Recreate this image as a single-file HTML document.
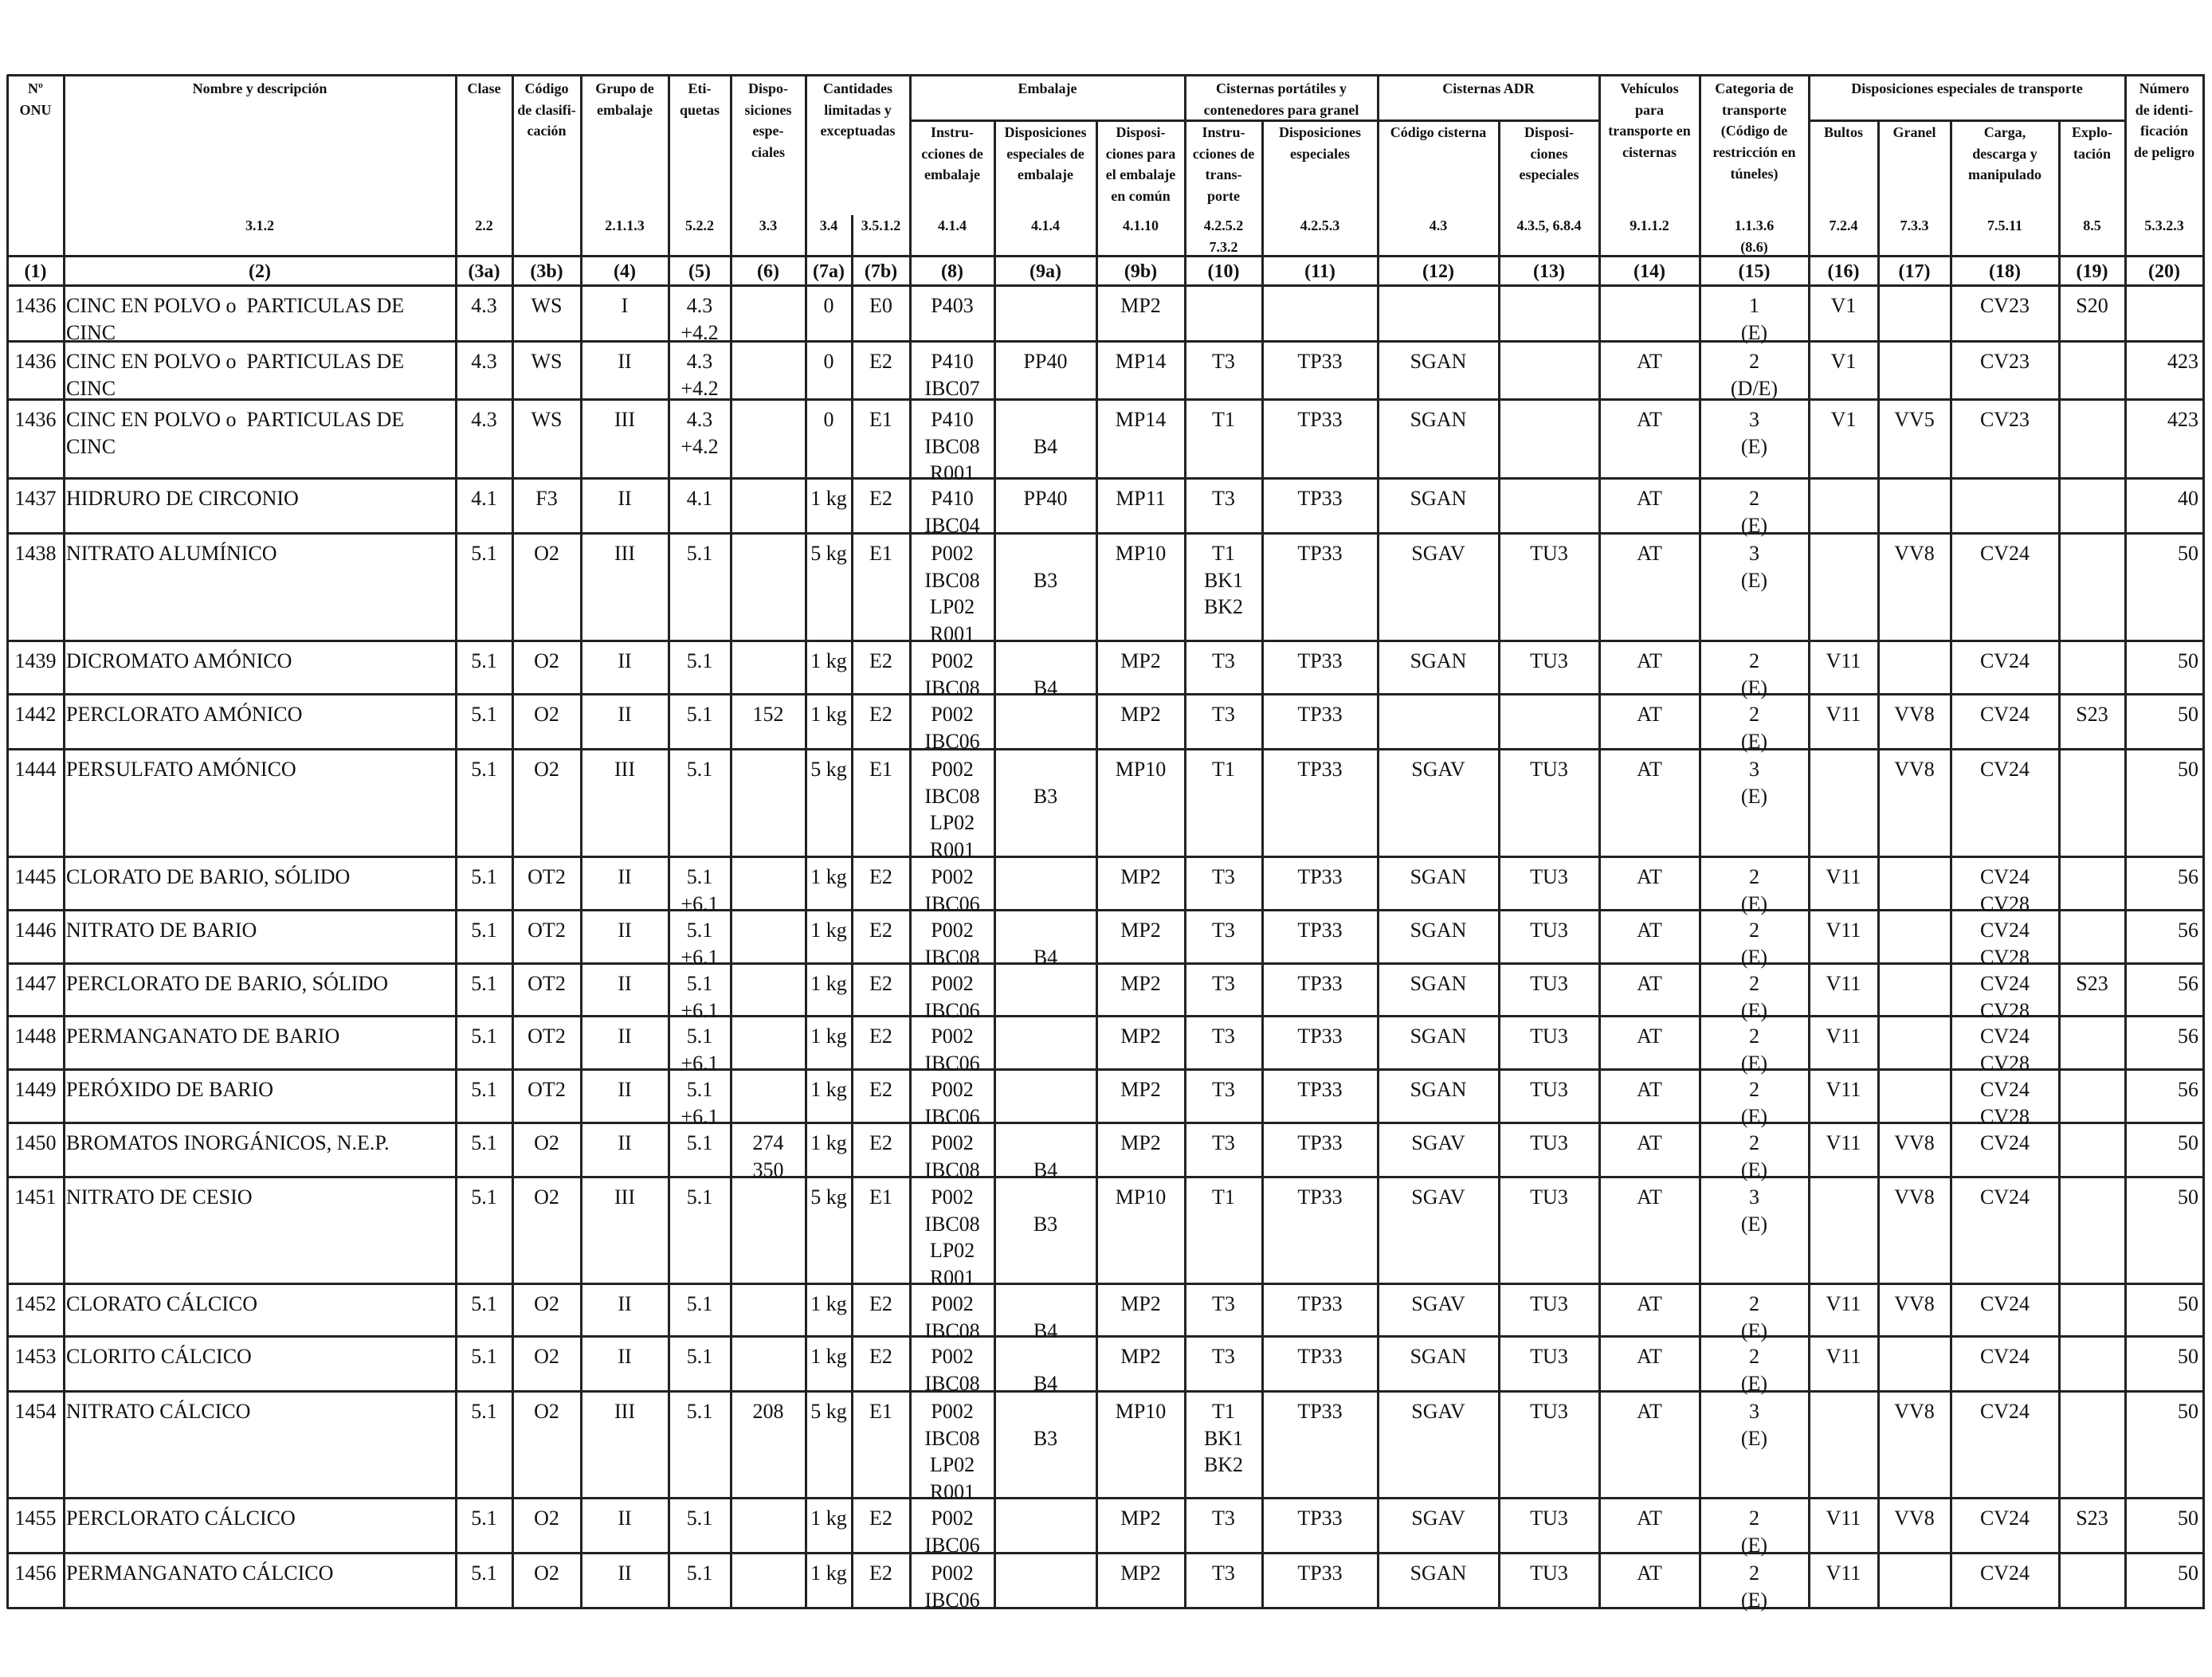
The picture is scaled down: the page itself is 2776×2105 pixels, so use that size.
<!DOCTYPE html>
<html><head><meta charset="utf-8">
<style>
html,body{margin:0;padding:0;background:#fff}
#page{position:relative;width:2776px;height:2105px;background:#fff;overflow:hidden;font-family:"Liberation Serif",serif;color:#111}
.ln{position:absolute;background:#222}
.t{position:absolute;white-space:pre;font-size:26px;line-height:33.5px}
.h{position:absolute;white-space:pre;font-size:18px;line-height:26.7px;font-weight:bold;text-align:center}
.n{position:absolute;font-size:24px;font-weight:bold;text-align:center;line-height:38px}
</style></head>
<body>
<div id="page"></div>
<script>
const colEdges=[9,80,572,643,729,839,917,1011,1069,1142,1248,1376,1487,1584,1729,1881,2007,2133,2270,2357,2448,2584,2667,2765];
const rowEdges=[358,428,501,600,669,804,871,940,1075,1142,1209,1275,1342,1409,1477,1611,1677,1746,1880,1949,2018];
const colNums=["(1)","(2)","(3a)","(3b)","(4)","(5)","(6)","(7a)","(7b)","(8)","(9a)","(9b)","(10)","(11)","(12)","(13)","(14)","(15)","(16)","(17)","(18)","(19)","(20)"];
const rows=[
["1436","CINC EN POLVO o  PARTICULAS DE\nCINC","4.3","WS","I","4.3\n+4.2","","0","E0","P403","","MP2","","","","","","1\n(E)","V1","","CV23","S20",""],
["1436","CINC EN POLVO o  PARTICULAS DE\nCINC","4.3","WS","II","4.3\n+4.2","","0","E2","P410\nIBC07","PP40","MP14","T3","TP33","SGAN","","AT","2\n(D/E)","V1","","CV23","","423"],
["1436","CINC EN POLVO o  PARTICULAS DE\nCINC","4.3","WS","III","4.3\n+4.2","","0","E1","P410\nIBC08\nR001","\nB4","MP14","T1","TP33","SGAN","","AT","3\n(E)","V1","VV5","CV23","","423"],
["1437","HIDRURO DE CIRCONIO","4.1","F3","II","4.1","","1 kg","E2","P410\nIBC04","PP40","MP11","T3","TP33","SGAN","","AT","2\n(E)","","","","","40"],
["1438","NITRATO ALUMÍNICO","5.1","O2","III","5.1","","5 kg","E1","P002\nIBC08\nLP02\nR001","\nB3","MP10","T1\nBK1\nBK2","TP33","SGAV","TU3","AT","3\n(E)","","VV8","CV24","","50"],
["1439","DICROMATO AMÓNICO","5.1","O2","II","5.1","","1 kg","E2","P002\nIBC08","\nB4","MP2","T3","TP33","SGAN","TU3","AT","2\n(E)","V11","","CV24","","50"],
["1442","PERCLORATO AMÓNICO","5.1","O2","II","5.1","152","1 kg","E2","P002\nIBC06","","MP2","T3","TP33","","","AT","2\n(E)","V11","VV8","CV24","S23","50"],
["1444","PERSULFATO AMÓNICO","5.1","O2","III","5.1","","5 kg","E1","P002\nIBC08\nLP02\nR001","\nB3","MP10","T1","TP33","SGAV","TU3","AT","3\n(E)","","VV8","CV24","","50"],
["1445","CLORATO DE BARIO, SÓLIDO","5.1","OT2","II","5.1\n+6.1","","1 kg","E2","P002\nIBC06","","MP2","T3","TP33","SGAN","TU3","AT","2\n(E)","V11","","CV24\nCV28","","56"],
["1446","NITRATO DE BARIO","5.1","OT2","II","5.1\n+6.1","","1 kg","E2","P002\nIBC08","\nB4","MP2","T3","TP33","SGAN","TU3","AT","2\n(E)","V11","","CV24\nCV28","","56"],
["1447","PERCLORATO DE BARIO, SÓLIDO","5.1","OT2","II","5.1\n+6.1","","1 kg","E2","P002\nIBC06","","MP2","T3","TP33","SGAN","TU3","AT","2\n(E)","V11","","CV24\nCV28","S23","56"],
["1448","PERMANGANATO DE BARIO","5.1","OT2","II","5.1\n+6.1","","1 kg","E2","P002\nIBC06","","MP2","T3","TP33","SGAN","TU3","AT","2\n(E)","V11","","CV24\nCV28","","56"],
["1449","PERÓXIDO DE BARIO","5.1","OT2","II","5.1\n+6.1","","1 kg","E2","P002\nIBC06","","MP2","T3","TP33","SGAN","TU3","AT","2\n(E)","V11","","CV24\nCV28","","56"],
["1450","BROMATOS INORGÁNICOS, N.E.P.","5.1","O2","II","5.1","274\n350","1 kg","E2","P002\nIBC08","\nB4","MP2","T3","TP33","SGAV","TU3","AT","2\n(E)","V11","VV8","CV24","","50"],
["1451","NITRATO DE CESIO","5.1","O2","III","5.1","","5 kg","E1","P002\nIBC08\nLP02\nR001","\nB3","MP10","T1","TP33","SGAV","TU3","AT","3\n(E)","","VV8","CV24","","50"],
["1452","CLORATO CÁLCICO","5.1","O2","II","5.1","","1 kg","E2","P002\nIBC08","\nB4","MP2","T3","TP33","SGAV","TU3","AT","2\n(E)","V11","VV8","CV24","","50"],
["1453","CLORITO CÁLCICO","5.1","O2","II","5.1","","1 kg","E2","P002\nIBC08","\nB4","MP2","T3","TP33","SGAN","TU3","AT","2\n(E)","V11","","CV24","","50"],
["1454","NITRATO CÁLCICO","5.1","O2","III","5.1","208","5 kg","E1","P002\nIBC08\nLP02\nR001","\nB3","MP10","T1\nBK1\nBK2","TP33","SGAV","TU3","AT","3\n(E)","","VV8","CV24","","50"],
["1455","PERCLORATO CÁLCICO","5.1","O2","II","5.1","","1 kg","E2","P002\nIBC06","","MP2","T3","TP33","SGAV","TU3","AT","2\n(E)","V11","VV8","CV24","S23","50"],
["1456","PERMANGANATO CÁLCICO","5.1","O2","II","5.1","","1 kg","E2","P002\nIBC06","","MP2","T3","TP33","SGAN","TU3","AT","2\n(E)","V11","","CV24","","50"]
];
// header: [startCol,endCol(exclusive),top,text]
const headTitles=[
[0,1,98,"Nº\nONU"],[1,2,98,"Nombre y descripción"],[2,3,98,"Clase"],[3,4,98,"Código\nde clasifi-\ncación"],
[4,5,98,"Grupo de\nembalaje"],[5,6,98,"Eti-\nquetas"],[6,7,98,"Dispo-\nsiciones\nespe-\nciales"],
[7,9,98,"Cantidades\nlimitadas y\nexceptuadas"],[9,12,98,"Embalaje"],[12,14,98,"Cisternas portátiles y\ncontenedores para granel"],
[14,16,98,"Cisternas ADR"],[16,17,98,"Vehículos\npara\ntransporte en\ncisternas"],
[17,18,98,"Categoria de\ntransporte\n(Código de\nrestricción en\ntúneles)"],[18,22,98,"Disposiciones especiales de transporte"],
[22,23,98,"Número\nde identi-\nficación\nde peligro"],
[9,10,153,"Instru-\ncciones de\nembalaje"],[10,11,153,"Disposiciones\nespeciales de\nembalaje"],[11,12,153,"Disposi-\nciones para\nel embalaje\nen común"],
[12,13,153,"Instru-\ncciones de\ntrans-\nporte"],[13,14,153,"Disposiciones\nespeciales"],[14,15,153,"Código cisterna"],[15,16,153,"Disposi-\nciones\nespeciales"],
[18,19,153,"Bultos"],[19,20,153,"Granel"],[20,21,153,"Carga,\ndescarga y\nmanipulado"],[21,22,153,"Explo-\ntación"]
];
const refs=["","3.1.2","2.2","","2.1.1.3","5.2.2","3.3","3.4","3.5.1.2","4.1.4","4.1.4","4.1.10","4.2.5.2\n7.3.2","4.2.5.3","4.3","4.3.5, 6.8.4","9.1.1.2","1.1.3.6\n(8.6)","7.2.4","7.3.3","7.5.11","8.5","5.3.2.3"];

const page=document.getElementById('page');
function line(x,y,w,h,name){const d=document.createElement('div');d.className='ln';


d.style.cssText=`left:${x}px;top:${y}px;width:${w}px;height:${h}px`;page.appendChild(d);}
function txt(cls,x0,x1,y,s,align,name){const d=document.createElement('div');d.className=cls;


d.style.left=x0+'px';d.style.width=(x1-x0)+'px';d.style.top=y+'px';d.style.textAlign=align||'center';
if(align==='left')d.style.paddingLeft='3px';if(align==='right'){d.style.boxSizing='border-box';d.style.paddingRight='6px';}
d.textContent=s;page.appendChild(d);}
const L=colEdges[0],R=colEdges[colEdges.length-1],TOP=94,BOT=rowEdges[rowEdges.length-1],HB=321,SUB=151,NB=358;
// horizontal lines
line(L,TOP-1,R-L+2,3,'table-top-border');
line(L,HB-1,R-L+2,3,'header-bottom-line');
rowEdges.forEach((y,i)=>line(L,y-1,R-L+2,3,'row-line-'+i));
// sub header lines
[[9,12],[12,14],[14,16],[18,22]].forEach(([a,b])=>line(colEdges[a],SUB-1,colEdges[b]-colEdges[a],2.5,'group-subline'));
// vertical lines
const subOnly=new Set([10,11,13,15,19,20,21]);
colEdges.forEach((x,i)=>{
 if(i===8){line(x-1,270,2.5,HB-270,'7a-7b-header-divider');line(x-1,HB,2.5,BOT-HB,'7a-7b-divider');}
 else if(subOnly.has(i)){line(x-1,SUB,2.5,BOT-SUB,'col-line-'+i);}
 else line(x-1,TOP,2.5,BOT-TOP+1,'col-line-'+i);
});
// header text
headTitles.forEach(h=>txt('h',colEdges[h[0]],colEdges[h[1]],h[2],h[3],'center','header-title'));
refs.forEach((r,i)=>{if(r)txt('h',colEdges[i],colEdges[i+1],270,r,'center','section-ref');});
colNums.forEach((c,i)=>txt('n',colEdges[i],colEdges[i+1],HB+1,c,'center','column-number'));
// body
rows.forEach((r,ri)=>{const y=rowEdges[ri]+9;
 r.forEach((c,ci)=>{if(!c)return;let al='center';if(ci===1)al='left';if(ci===22)al='right';
 txt('t',colEdges[ci],colEdges[ci+1],y,c,al,'cell-r'+ri+'-c'+ci);});
});
</script>
</body></html>
